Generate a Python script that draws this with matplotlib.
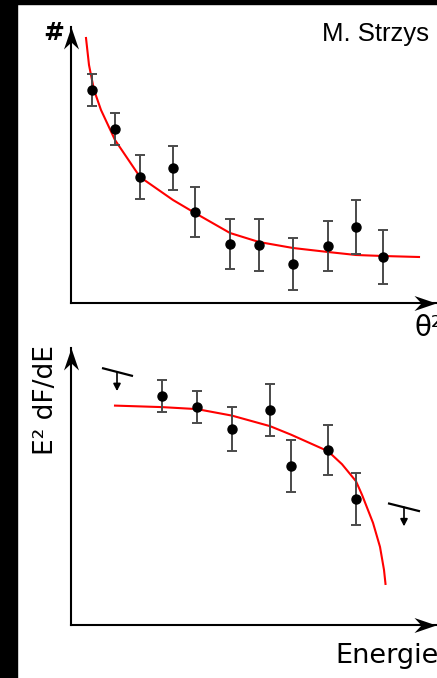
import matplotlib
matplotlib.use("Agg")
import matplotlib.pyplot as plt
from matplotlib.patches import Rectangle
from matplotlib.path import Path

W, H = 437, 678  # output size in pixels (dpi 100)

# --- upper panel: theta^2 distribution (arbitrary units) ---
theta2 = [21, 44, 69, 102, 124, 159, 188, 222, 257, 285, 312]
counts = [213, 174, 126, 135, 91, 59, 58, 39, 57, 76, 46]
counts_err = [16, 16, 22, 22, 25, 25, 26, 26, 25, 27, 27]

theta2_fit = [15, 18, 23, 30, 44, 69, 102, 124, 159, 188, 222, 257, 285, 312, 348]
counts_fit = [265, 238, 213, 193, 163, 126, 103, 90, 70, 61, 55, 51, 48, 47, 46]

# --- lower panel: spectral energy distribution (arbitrary units) ---
energy = [91, 126, 161, 199, 220, 257, 285]
flux = [228, 217, 195, 214, 158, 174, 125]
flux_err = [16, 16, 22, 26, 26, 25, 26]

# upper limits: bin centre, bin edges and flux at the edges
ul_energy = [46, 333]
ul_flux = [252, 117]
ul_e_lo = [31, 317]
ul_e_hi = [62, 349]
ul_flux_at_lo = [256, 121]
ul_flux_at_hi = [248, 113]

energy_fit = [44, 91, 126, 161, 199, 220, 257, 271, 285, 291, 302, 309, 313, 314.5]
flux_fit = [218.5, 217, 215, 208.5, 198, 189.5, 173, 160, 143, 129.5, 101.5, 77.5, 54.5, 40.5]

RED = "#ff0000"
ERR = "#4a4a4a"
UL_ARROW = 19

fig = plt.figure(figsize=(W / 100, H / 100), dpi=100)
fig.patch.set_facecolor("white")

# dark frame on the left and top edges
fig.patches.append(Rectangle((0, 0), 17 / W, 1, transform=fig.transFigure,
                             color="black", zorder=0))
fig.patches.append(Rectangle((0, 1 - 4 / H), 1, 4 / H, transform=fig.transFigure,
                             color="black", zorder=0))


def head(direction):
    """Arrowhead marker with a notched back, tip at the origin."""
    if direction == "right":
        v = [(0, 0), (-22, 7.5), (-15, 0), (-22, -7.5), (0, 0)]
    else:
        v = [(0, 0), (-7.5, -22), (0, -15), (7.5, -22), (0, 0)]
    codes = [Path.MOVETO, Path.LINETO, Path.LINETO, Path.LINETO, Path.CLOSEPOLY]
    return Path(v, codes)


HEAD_MS = 44 * 0.72


def make_axes(rect):
    ax = fig.add_axes(rect)
    ax.set_facecolor("none")
    for s in ("top", "right"):
        ax.spines[s].set_visible(False)
    for s in ("left", "bottom"):
        ax.spines[s].set_linewidth(1.5)
        ax.spines[s].set_color("black")
    ax.set_xticks([])
    ax.set_yticks([])
    ax.set_xlim(0, 365)
    ax.set_ylim(0, 276)
    ax.plot(1, 0, marker=head("right"), ms=HEAD_MS, mew=0, color="black",
            transform=ax.transAxes, clip_on=False, zorder=5)
    ax.plot(0, 1, marker=head("up"), ms=HEAD_MS, mew=0, color="black",
            transform=ax.transAxes, clip_on=False, zorder=5)
    return ax


# upper panel
ax1 = make_axes([71 / W, (H - 303) / H, 365 / W, 276 / H])
ax1.plot(theta2_fit, counts_fit, color=RED, lw=1.5, zorder=1.5,
         solid_joinstyle="round", clip_on=False)
ax1.errorbar(theta2, counts, yerr=counts_err, fmt="o", color="black",
             ecolor=ERR, elinewidth=1.4, capsize=3.5, capthick=1.4, ms=6.5,
             zorder=3, clip_on=False)

# lower panel
ax2 = make_axes([71 / W, (H - 624.5) / H, 365 / W, 276.5 / H])
ax2.plot(energy_fit, flux_fit, color=RED, lw=1.5, zorder=1.5,
         solid_joinstyle="round", clip_on=False)
ax2.errorbar(energy, flux, yerr=flux_err, fmt="o", color="black",
             ecolor=ERR, elinewidth=1.4, capsize=3.5, capthick=1.4, ms=6.5,
             zorder=3, clip_on=False)
for e, f, lo, hi, flo, fhi in zip(ul_energy, ul_flux, ul_e_lo, ul_e_hi,
                                   ul_flux_at_lo, ul_flux_at_hi):
    ax2.plot([lo, hi], [flo, fhi], color="black", lw=1.6, clip_on=False,
             solid_capstyle="butt")
    ax2.annotate("", xy=(e, f - UL_ARROW), xytext=(e, f),
                 arrowprops=dict(arrowstyle="-|>,head_length=0.35,head_width=0.18",
                                 color="black", lw=1.2, shrinkA=0, shrinkB=0,
                                 mutation_scale=12),
                 annotation_clip=False)

# labels
fig.text(54 / W, 1 - 32.5 / H, "#", ha="center", va="center",
         fontsize=18, fontweight="bold", family="DejaVu Sans")
fig.text(321.7 / W, 1 - 40.7 / H, "M. Strzys", ha="left", va="baseline",
         fontsize=18.5, family="Liberation Sans")
fig.text(415 / W, 1 - 336 / H, "θ²", ha="left", va="baseline",
         fontsize=20, family="DejaVu Sans")
fig.text(335 / W, 1 - 663.3 / H, "Energie", ha="left", va="baseline",
         fontsize=19.5, family="DejaVu Sans")
fig.text(46 / W, 1 - 400.5 / H, "E² dF/dE", ha="center", va="center",
         rotation=90, fontsize=19, family="DejaVu Sans")

fig.savefig("out.png", dpi=100)
